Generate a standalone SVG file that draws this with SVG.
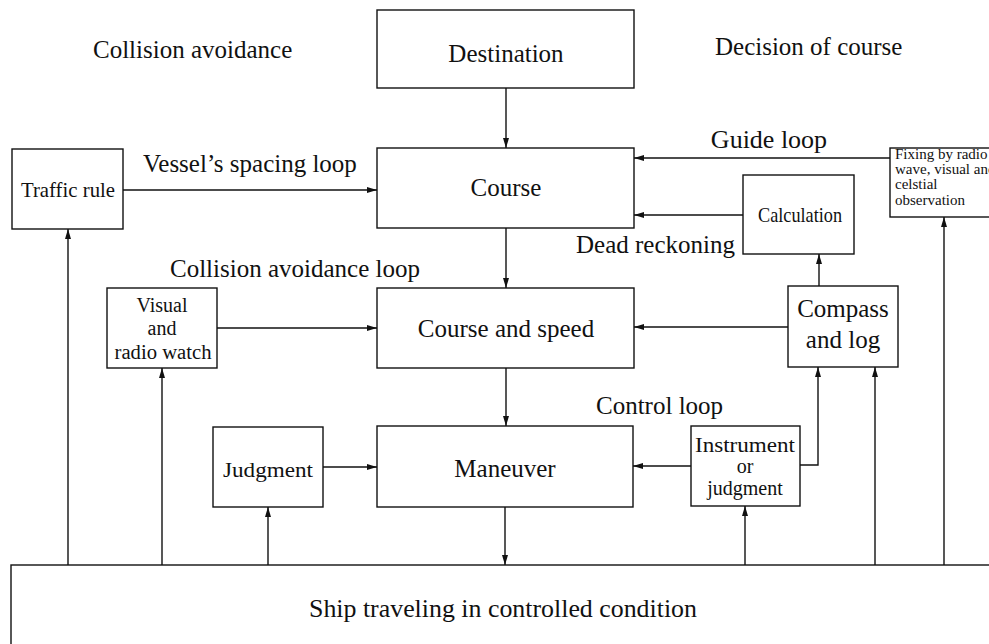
<svg xmlns="http://www.w3.org/2000/svg" width="989" height="644" viewBox="0 0 989 644">
<style>
text{font-family:"Liberation Serif","Times New Roman",serif;fill:#111;}
.t{font-size:25px;text-anchor:middle;}
.l{font-size:25px;}
.s{font-size:22px;text-anchor:middle;}
.m{font-size:20px;text-anchor:middle;}
.f{font-size:15px;}
rect{fill:#fff;stroke:#111;stroke-width:1.4;}
.c line,.c polyline{stroke:#111;stroke-width:1.4;fill:none;marker-end:url(#a);}
</style>
<defs>
<marker id="a" viewBox="0 0 10 6" refX="10" refY="3" markerWidth="10" markerHeight="6" markerUnits="userSpaceOnUse" orient="auto">
<path d="M0,0 L10,3 L0,6 z" fill="#111"/>
</marker>
</defs>
<rect width="989" height="644" style="fill:#fff;stroke:none"/>
<g id="labels">
<text class="l" x="93" y="58">Collision avoidance</text>
<text class="l" x="715" y="55">Decision of course</text>
<text class="l" x="143" y="172">Vessel’s spacing loop</text>
<text class="t" x="769" y="148" style="font-size:26px">Guide loop</text>
<text class="l" x="576" y="253">Dead reckoning</text>
<text class="l" x="170" y="277">Collision avoidance loop</text>
<text class="l" x="596" y="414">Control loop</text>
</g>
<g class="c" id="connectors">
<line x1="506" y1="88" x2="506" y2="148"/>
<line x1="506" y1="228" x2="506" y2="288"/>
<line x1="506" y1="368" x2="506" y2="426"/>
<line x1="505" y1="507" x2="505" y2="565"/>
<line x1="123" y1="190" x2="377" y2="190"/>
<line x1="890" y1="158" x2="634" y2="158"/>
<line x1="743" y1="215" x2="634" y2="215"/>
<line x1="819" y1="286" x2="819" y2="254"/>
<line x1="217" y1="328" x2="377" y2="328"/>
<line x1="788" y1="327" x2="634" y2="327"/>
<line x1="323" y1="467" x2="377" y2="467"/>
<line x1="691" y1="466" x2="633" y2="466"/>
<polyline points="800,465 818,465 818,367"/>
<line x1="68" y1="565" x2="68" y2="229"/>
<line x1="162" y1="565" x2="162" y2="368"/>
<line x1="268" y1="565" x2="268" y2="507"/>
<line x1="745" y1="565" x2="745" y2="506"/>
<line x1="875" y1="565" x2="875" y2="367"/>
<line x1="944" y1="565" x2="944" y2="217"/>
</g>
<g id="destination"><rect x="377" y="10" width="257" height="78"/><text class="t" x="506" y="62">Destination</text></g>
<g id="course"><rect x="377" y="148" width="257" height="80"/><text class="t" x="506" y="196">Course</text></g>
<g id="course-speed"><rect x="377" y="288" width="257" height="80"/><text class="t" x="506" y="337">Course and speed</text></g>
<g id="maneuver"><rect x="377" y="426" width="256" height="81"/><text class="t" x="505" y="477">Maneuver</text></g>
<g id="traffic-rule"><rect x="12" y="149" width="111" height="80"/><text class="s" x="68" y="197" textLength="94" lengthAdjust="spacingAndGlyphs">Traffic rule</text></g>
<g id="calculation"><rect x="743" y="175" width="111" height="79"/><text class="s" x="800" y="222" textLength="84" lengthAdjust="spacingAndGlyphs">Calculation</text></g>
<g id="fixing"><rect x="890" y="148" width="110" height="69"/>
<text class="f" x="895" y="159">Fixing by radio</text>
<text class="f" x="895" y="174">wave,  visual and</text>
<text class="f" x="895" y="189">celstial</text>
<text class="f" x="895" y="205">observation</text></g>
<g id="visual-watch"><rect x="107" y="288" width="110" height="80"/>
<text class="m" x="162" y="312">Visual</text>
<text class="m" x="162" y="335">and</text>
<text class="m" x="163" y="359" textLength="97" lengthAdjust="spacingAndGlyphs">radio watch</text></g>
<g id="compass-log"><rect x="788" y="286" width="110" height="81"/>
<text class="t" x="843" y="317">Compass</text>
<text class="t" x="843" y="348">and log</text></g>
<g id="judgment"><rect x="213" y="427" width="110" height="80"/><text class="s" x="268" y="477" textLength="90" lengthAdjust="spacingAndGlyphs">Judgment</text></g>
<g id="instrument"><rect x="691" y="426" width="109" height="80"/>
<text class="m" x="745" y="452" textLength="100" lengthAdjust="spacingAndGlyphs">Instrument</text>
<text class="m" x="745" y="473">or</text>
<text class="m" x="745" y="495">judgment</text></g>
<g id="ship"><rect x="11" y="565" width="1000" height="100"/><text class="t" x="503" y="617" textLength="388" lengthAdjust="spacingAndGlyphs">Ship traveling in controlled condition</text></g>
</svg>
